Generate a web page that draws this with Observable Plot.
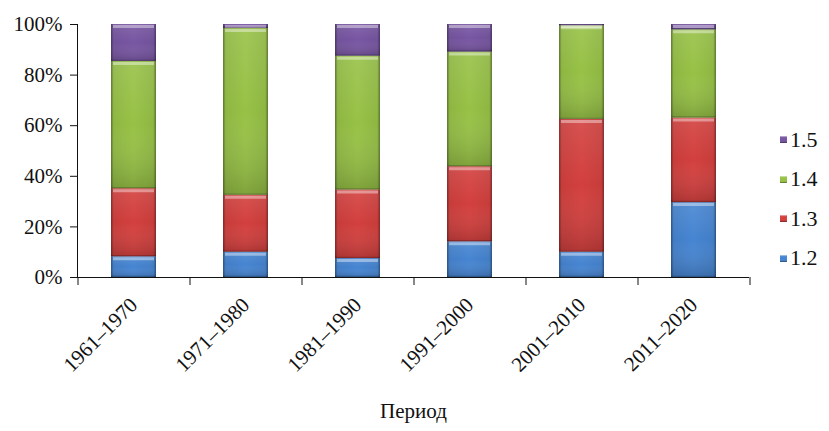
<!DOCTYPE html>
<html>
<head>
<meta charset="utf-8">
<script src="https://cdn.jsdelivr.net/npm/d3@7"></script>
<script src="https://cdn.jsdelivr.net/npm/@observablehq/plot@0.6"></script>
<style>
  html, body { margin: 0; padding: 0; background: #fff; }
  #wrap { position: relative; width: 829px; height: 431px; font-family: "Liberation Serif", "DejaVu Serif", serif; }
  #legend { position: absolute; left: 780px; top: 120px; }
  #legend .row { display: flex; align-items: center; height: 39.5px; font-size: 22px; color: #111; }
  #legend .sw { width: 7px; height: 7px; margin-right: 3px; box-shadow: inset 0 -1px 1px rgba(0,0,0,0.35), inset 0 1px 1px rgba(255,255,255,0.5); }
</style>
</head>
<body>
<div id="wrap"><div id="legend"></div></div>
<script>
// Decades on the x axis
const periods = ["1961–1970", "1971–1980", "1981–1990", "1991–2000", "2001–2010", "2011–2020"];
// Share of each group per decade, %
const series = ["1.2", "1.3", "1.4", "1.5"];
const s12 = [8.2, 10.0, 7.5, 14.1, 10.0, 29.6];
const s13 = [26.9, 22.5, 27.1, 29.7, 52.5, 33.4];
const s14 = [50.3, 65.9, 52.9, 45.3, 37.0, 34.9];
const s15 = [14.6, 1.6, 12.5, 10.9, 0.5, 2.1];
const yTicks = [0, 20, 40, 60, 80, 100];
const colors = ["#4685d2", "#d3403e", "#97c246", "#7856a3"];

const values = [s12, s13, s14, s15];
const data = [];
series.forEach((s, k) => periods.forEach((p, i) => data.push({period: p, series: s, value: values[k][i]})));

const xy = {x: "period", y: "value", z: "series"};
const last = periods[periods.length - 1];

const chart = Plot.plot({
  width: 829,
  height: 431,
  marginLeft: 77,
  marginRight: 80,
  marginTop: 24,
  marginBottom: 154,
  style: {fontFamily: "'Liberation Serif', 'DejaVu Serif', serif", fontSize: "21px", color: "#111", background: "#fff"},
  x: {domain: periods, paddingInner: 0.6, paddingOuter: 0.3, tickRotate: -45, tickSize: 0, tickPadding: 24,
      label: "Период", labelAnchor: "center", labelOffset: 140},
  y: {domain: [0, 100], ticks: yTicks, tickFormat: d => d + "%", tickSize: 7, tickPadding: 8, label: null, line: true},
  color: {domain: series, range: colors},
  marks: [
    // stacked segments
    Plot.barY(data, Plot.stackY({...xy, fill: "series"})),
    // vertical shading: lighter at top, darker at bottom of each segment
    Plot.barY(data, Plot.stackY({...xy, fill: "url(#shadeV)"})),
    // darker side edges
    Plot.barY(data, Plot.stackY({...xy, fill: "url(#shadeH)"})),
    // bevel highlight along the top of each segment
    Plot.tickY(data, Plot.stackY2({...xy, stroke: "white", strokeOpacity: 0.4, strokeWidth: 3, dy: 2, insetLeft: 2, insetRight: 2})),
    // thin dark line along the bottom of each segment
    Plot.tickY(data, Plot.stackY1({...xy, stroke: "black", strokeOpacity: 0.2, strokeWidth: 1.5, dy: -1})),
    // x axis line and tick marks at category boundaries
    Plot.ruleY([0], {stroke: "#111"}),
    Plot.ruleX(periods, {x: d => d, y1: 0, y2: 0, insetBottom: -8, dx: -56, stroke: "#111"}),
    Plot.ruleX([last], {x: d => d, y1: 0, y2: 0, insetBottom: -8, dx: 56, stroke: "#111"})
  ]
});

// gradient definitions used by the shading layers
const svg = d3.select(chart);
const defs = svg.insert("defs", ":first-child");
const gv = defs.append("linearGradient").attr("id", "shadeV").attr("x1", 0).attr("y1", 0).attr("x2", 0).attr("y2", 1);
gv.append("stop").attr("offset", "0%").attr("stop-color", "white").attr("stop-opacity", 0.1);
gv.append("stop").attr("offset", "50%").attr("stop-color", "white").attr("stop-opacity", 0);
gv.append("stop").attr("offset", "100%").attr("stop-color", "black").attr("stop-opacity", 0.16);
const gh = defs.append("linearGradient").attr("id", "shadeH").attr("x1", 0).attr("y1", 0).attr("x2", 1).attr("y2", 0);
gh.append("stop").attr("offset", "0%").attr("stop-color", "black").attr("stop-opacity", 0.4);
gh.append("stop").attr("offset", "6%").attr("stop-color", "black").attr("stop-opacity", 0.06);
gh.append("stop").attr("offset", "50%").attr("stop-color", "black").attr("stop-opacity", 0);
gh.append("stop").attr("offset", "94%").attr("stop-color", "black").attr("stop-opacity", 0.06);
gh.append("stop").attr("offset", "100%").attr("stop-color", "black").attr("stop-opacity", 0.4);

const wrap = document.getElementById("wrap");
wrap.insertBefore(chart, wrap.firstChild);

// legend, top entry first
const legend = d3.select("#legend");
series.slice().reverse().forEach(s => {
  const row = legend.append("div").attr("class", "row");
  row.append("div").attr("class", "sw").style("background", colors[series.indexOf(s)]);
  row.append("span").text(s);
});
</script>
</body>
</html>
